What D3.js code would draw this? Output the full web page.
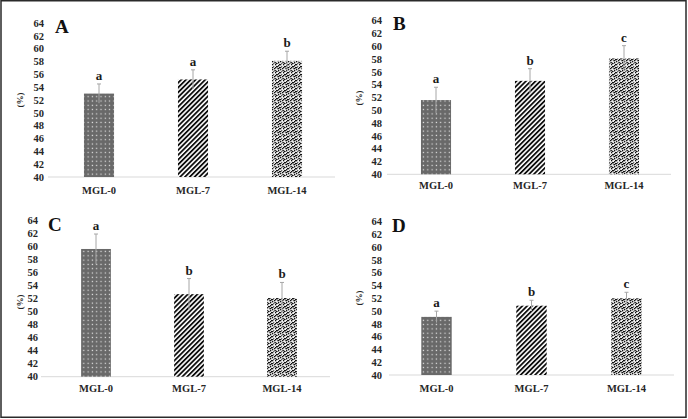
<!DOCTYPE html>
<html lang="en">
<head>
    <meta charset="UTF-8">
    <script src="https://d3js.org/d3.v7.min.js"></script>
    <title>MGL</title>
    <style>
        body { margin: 0; background: white; }
        svg { font-family: "Liberation Serif", "DejaVu Serif", serif; display: block; }
        .tick-label { font-size: 10.5px; font-weight: bold; fill: #262626; }
        .cat-label { font-size: 10.5px; font-weight: bold; fill: #262626; }
        .sig { font-size: 13px; font-weight: bold; fill: #1a1a1a; }
        .panel-label { font-size: 19px; font-weight: bold; fill: #111; }
        .y-title { font-size: 9px; font-weight: bold; fill: #262626; }
    </style>
</head>
<body>
    <div id="chart"></div>

    <script>
        const width = 688;
        const height = 419;

        // données
        const categories = ["MGL-0", "MGL-7", "MGL-14"];
        const panelNames = ["A", "B", "C", "D"];
        const yTicks = [40, 42, 44, 46, 48, 50, 52, 54, 56, 58, 60, 62, 64];

        const meansA = [53.0, 55.2, 58.1];
        const errA = [1.5, 1.5, 1.5];
        const lettersA = ["a", "a", "b"];

        const meansB = [51.6, 54.6, 58.1];
        const errB = [2.0, 1.9, 2.0];
        const lettersB = ["a", "b", "c"];

        const meansC = [59.65, 52.7, 52.1];
        const errC = [2.3, 2.4, 2.4];
        const lettersC = ["a", "b", "b"];

        const meansD = [49.1, 50.85, 52.0];
        const errD = [0.9, 0.85, 0.95];
        const lettersD = ["a", "b", "c"];

        // mise en page de chaque panneau (pixels)
        const layouts = [
            { band: [52, 334], axis: [48, 335], y: [177, 23], tickX: 44, titleX: 20, titleY: 100, catY: 194, nameX: 55, nameY: 33 },
            { band: [389, 671], axis: [387, 671], y: [174.3, 20.7], tickX: 382, titleX: 359, titleY: 98, catY: 189, nameX: 393, nameY: 30 },
            { band: [49.5, 328.5], axis: [41, 330], y: [376.7, 220.7], tickX: 38, titleX: 20, titleY: 302, catY: 392, nameX: 48, nameY: 231 },
            { band: [389, 674], axis: [389, 674], y: [375, 221.7], tickX: 382, titleX: 359, titleY: 298, catY: 392, nameX: 392, nameY: 232 }
        ];

        const panelData = [
            { means: meansA, err: errA, letters: lettersA },
            { means: meansB, err: errB, letters: lettersB },
            { means: meansC, err: errC, letters: lettersC },
            { means: meansD, err: errD, letters: lettersD }
        ];

        const svg = d3.select("#chart")
            .append("svg")
            .attr("width", width)
            .attr("height", height);

        // motifs de remplissage
        const defs = svg.append("defs");

        const dots = defs.append("pattern")
            .attr("id", "pat-dots")
            .attr("patternUnits", "userSpaceOnUse")
            .attr("width", 4.3).attr("height", 4.3);
        dots.append("rect").attr("width", 4.3).attr("height", 4.3).attr("fill", "#696969");
        dots.append("rect").attr("x", 1.5).attr("y", 1.5).attr("width", 1.2).attr("height", 1.2).attr("fill", "#e6e6e6");

        const stripes = defs.append("pattern")
            .attr("id", "pat-stripes")
            .attr("patternUnits", "userSpaceOnUse")
            .attr("width", 3.4).attr("height", 3.4)
            .attr("patternTransform", "rotate(45)");
        stripes.append("rect").attr("width", 3.4).attr("height", 3.4).attr("fill", "white");
        stripes.append("rect").attr("width", 1.8).attr("height", 3.4).attr("fill", "#0d0d0d");

        const confetti = defs.append("pattern")
            .attr("id", "pat-confetti")
            .attr("patternUnits", "userSpaceOnUse")
            .attr("width", 8).attr("height", 8);
        confetti.append("rect").attr("width", 8).attr("height", 8).attr("fill", "#f0f0f0");
        const confettiPts = [[0,0],[3,0],[6,1],[1,2],[4,2],[7,3],[2,4],[5,4],[0,5],[3,6],[6,6],[1,7],[4,7],[7,0],[5,2],[2,6],[0,3],[6,4],[3,3],[5,7]];
        confetti.selectAll("rect.c")
            .data(confettiPts)
            .join("rect")
            .attr("class", "c")
            .attr("x", d => d[0]).attr("y", d => d[1])
            .attr("width", 1.3).attr("height", 1.3)
            .attr("fill", (d, i) => i % 4 === 3 ? "#666" : "#111");

        const fills = ["url(#pat-dots)", "url(#pat-stripes)", "url(#pat-confetti)"];

        // cadre extérieur
        svg.append("rect")
            .attr("x", 1).attr("y", 0.75)
            .attr("width", 685).attr("height", 416.5)
            .attr("fill", "none")
            .attr("stroke", "#2a2a2a")
            .attr("stroke-width", 1.5);

        panelNames.forEach((name, p) => {
            const L = layouts[p];
            const D = panelData[p];
            const g = svg.append("g").attr("class", "panel-" + name);

            const x = d3.scaleBand()
                .domain(categories)
                .range(L.band)
                .paddingInner(0.68)
                .paddingOuter(0.34);

            const y = d3.scaleLinear()
                .domain([40, 64])
                .range(L.y);

            // graduations de l'axe Y
            g.selectAll(".tick-label")
                .data(yTicks)
                .join("text")
                .attr("class", "tick-label")
                .attr("x", L.tickX)
                .attr("y", d => y(d))
                .attr("dy", "0.35em")
                .attr("text-anchor", "end")
                .text(d => d);

            // axe X (ligne grise)
            g.append("line")
                .attr("x1", L.axis[0]).attr("x2", L.axis[1])
                .attr("y1", y(40)).attr("y2", y(40))
                .attr("stroke", "#d9d9d9")
                .attr("stroke-width", 1);

            // barres
            g.selectAll(".bar")
                .data(D.means)
                .join("rect")
                .attr("class", "bar")
                .attr("x", (d, i) => x(categories[i]))
                .attr("width", x.bandwidth())
                .attr("y", d => y(d))
                .attr("height", d => y(40) - y(d))
                .attr("fill", (d, i) => fills[i]);

            // barres d'erreur
            const cx = i => x(categories[i]) + x.bandwidth() / 2;
            g.selectAll(".err")
                .data(D.means)
                .join("line")
                .attr("class", "err")
                .attr("x1", (d, i) => cx(i)).attr("x2", (d, i) => cx(i))
                .attr("y1", (d, i) => y(d - D.err[i]))
                .attr("y2", (d, i) => y(d + D.err[i]))
                .attr("stroke", "#a6a6a6")
                .attr("stroke-width", 1);
            g.selectAll(".cap")
                .data(D.means)
                .join("line")
                .attr("class", "cap")
                .attr("x1", (d, i) => cx(i) - 2).attr("x2", (d, i) => cx(i) + 2)
                .attr("y1", (d, i) => y(d + D.err[i]))
                .attr("y2", (d, i) => y(d + D.err[i]))
                .attr("stroke", "#a6a6a6")
                .attr("stroke-width", 1);

            // lettres de signification
            g.selectAll(".sig")
                .data(D.letters)
                .join("text")
                .attr("class", "sig")
                .attr("x", (d, i) => cx(i))
                .attr("y", (d, i) => y(D.means[i] + D.err[i]) - 4)
                .attr("text-anchor", "middle")
                .text(d => d);

            // étiquettes des catégories
            g.selectAll(".cat-label")
                .data(categories)
                .join("text")
                .attr("class", "cat-label")
                .attr("x", d => x(d) + x.bandwidth() / 2)
                .attr("y", L.catY)
                .attr("text-anchor", "middle")
                .text(d => d);

            // titre de l'axe Y
            g.append("text")
                .attr("class", "y-title")
                .attr("transform", `translate(${L.titleX},${L.titleY}) rotate(-90)`)
                .attr("text-anchor", "middle")
                .attr("dy", "0.35em")
                .text("(%)");

            // lettre du panneau
            g.append("text")
                .attr("class", "panel-label")
                .attr("x", L.nameX)
                .attr("y", L.nameY)
                .text(name);
        });
    </script>
</body>
</html>
